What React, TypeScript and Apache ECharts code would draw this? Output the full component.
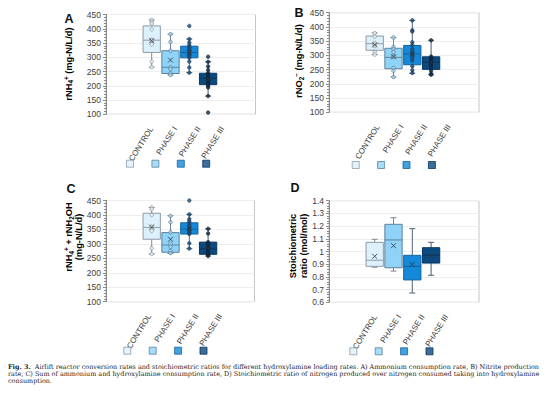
import React, { useEffect, useRef } from 'react';
import * as echarts from 'echarts';

// ---------------- data ----------------
const CATEGORIES = ['CONTROL', 'PHASE I', 'PHASE II', 'PHASE III'];

const RATE_TICKS = [100, 150, 200, 250, 300, 350, 400, 450];
const RATIO_TICKS = [0.6, 0.7, 0.8, 0.9, 1.0, 1.1, 1.2, 1.3, 1.4];

// A) rNH4+ (mg-N/L/d) — [min, Q1, median, Q3, max]
const A_BOX = [
  [265, 317, 360, 410, 431],
  [238, 243, 265, 323, 381],
  [246, 298, 317, 339, 364],
  [164, 204, 226, 244, 284],
];
const A_MEAN = [358, 290, 316, 222];
const A_POINTS = [
  [431, 424, 418, 398, 362, 358, 345, 285, 265],
  [381, 354, 323, 265, 258, 244, 238],
  [410, 364, 352, 343, 335, 328, 320, 312, 305, 298, 285, 264, 246],
  [302, 284, 268, 255, 245, 240, 234, 228, 224, 218, 212, 206, 200, 194, 164, 106],
];

// B) rNO2- (mg-N/L/d)
const B_BOX = [
  [303, 318, 341, 368, 379],
  [224, 253, 293, 325, 363],
  [237, 267, 305, 335, 423],
  [232, 251, 276, 295, 353],
];
const B_MEAN = [337, 295, 305, 275];
const B_POINTS = [
  [378, 366, 344, 338, 333, 312, 303],
  [363, 330, 322, 312, 298, 294, 256, 246, 224],
  [423, 388, 384, 346, 336, 322, 312, 306, 300, 292, 282, 262, 248, 238],
  [353, 296, 290, 285, 279, 275, 270, 264, 256, 246, 236, 232],
];

// C) rNH4+ + rNH2OH (mg-N/L/d)
const C_BOX = [
  [265, 316, 357, 406, 426],
  [267, 271, 296, 339, 397],
  [283, 334, 351, 373, 402],
  [258, 264, 283, 306, 352],
];
const C_MEAN = [358, 316, 353, 287];
const C_POINTS = [
  [426, 420, 400, 360, 345, 285, 265],
  [397, 375, 340, 300, 290, 276, 268],
  [450, 402, 386, 378, 370, 362, 355, 350, 345, 338, 334, 302, 284],
  [352, 336, 306, 300, 292, 286, 280, 274, 268, 263, 258],
];

// D) Stoichiometric ratio (mol/mol)
const D_BOX = [
  [0.876, 0.883, 0.931, 1.072, 1.096],
  [0.846, 0.872, 1.091, 1.214, 1.266],
  [0.673, 0.776, 0.883, 0.970, 1.180],
  [0.813, 0.909, 0.972, 1.030, 1.072],
];
const D_MEAN = [0.962, 1.046, 0.899, 0.965];
const D_POINTS: number[][] = [[], [], [], []];

// ---------------- styles ----------------
const FILL = ['#ddf1fd', '#8fd3f8', '#1589d9', '#0b4a7e'];
const EDGE = ['#8d9ba6', '#5e8199', '#17639c', '#073660'];
const WHISKER = ['#808c96', '#6f8391', '#4f6577', '#4a5b6a'];
const DOT_FILL = ['#eef7fd', '#a9ddf8', '#1f4c75', '#102e4b'];
const DOT_EDGE = ['#76838d', '#4d6d84', '#1a3d5e', '#0b2036'];
const FONT = 'Liberation Sans, Arial, Helvetica, sans-serif';
const SERIF = 'DejaVu Serif, Liberation Serif, serif';

const PANELS = [
  { box: A_BOX, mean: A_MEAN, points: A_POINTS, ticks: RATE_TICKS },
  { box: B_BOX, mean: B_MEAN, points: B_POINTS, ticks: RATE_TICKS },
  { box: C_BOX, mean: C_MEAN, points: C_POINTS, ticks: RATE_TICKS },
  { box: D_BOX, mean: D_MEAN, points: D_POINTS, ticks: RATIO_TICKS },
];

// layout (pixels)
const LAYOUT = [
  { ax: 106, top: 14.5, h: 99.8, w: 149.5, lab: 81, legX: 126, legY: 159.7 },
  { ax: 329, top: 12.7, h: 99.6, w: 150, lab: 84.5, legX: 351.7, legY: 161 },
  { ax: 106, top: 200.5, h: 101.2, w: 148.5, lab: 79, legX: 123.3, legY: 346.7 },
  { ax: 329, top: 200.7, h: 101.6, w: 150, lab: 82, legX: 349.3, legY: 347.3 },
];
const BOX_OFFSET = 36.3;
const BOX_BAND = 18.8;
const LABEL_BAND = 23.6;

const RICH = {
  b: { fontFamily: FONT, fontWeight: 'bold', fontSize: 9.3, color: '#1a1a1a', lineHeight: 10.5 },
  sub: { fontFamily: FONT, fontWeight: 'bold', fontSize: 6.3, color: '#1a1a1a', verticalAlign: 'bottom', lineHeight: 7 },
  sup: { fontFamily: FONT, fontWeight: 'bold', fontSize: 6.3, color: '#1a1a1a', verticalAlign: 'top', lineHeight: 7 },
};

const TITLES = [
  { x: 68.5, y: 64, text: '{b|rNH}{sub|4}{sup|+}{b| (mg-N/L/d)}' },
  { x: 299, y: 61, text: '{b|rNO}{sub|2}{sup|−}{b| (mg-N/L/d)}' },
  { x: 74, y: 237, text: '{b|rNH}{sub|4}{sup|+}{b| + rNH}{sub|2}{b|OH}\n{b|(mg-N/L/d)}' },
  { x: 298.5, y: 246, text: '{b|Stoichiometric}\n{b|ratio (mol/mol)}' },
];
const LETTERS = [
  { t: 'A', x: 69, y: 18.5 },
  { t: 'B', x: 299, y: 12.5 },
  { t: 'C', x: 71, y: 189 },
  { t: 'D', x: 295, y: 188.3 },
];

const CAPTION =
  '{b|Fig. 3.}{n|  Airlift reactor conversion rates and stoichiometric ratios for different hydroxylamine loading rates. A) Ammonium consumption rate, B) Nitrite production}\n' +
  '{n|rate, C) Sum of ammonium and hydroxylamine consumption rate, D) Stoichiometric ratio of nitrogen produced over nitrogen consumed taking into hydroxylamine}\n' +
  '{n|consumption.}';

function makeRenderBox() {
  return (params: any, api: any) => {
    const i = api.value(0);
    const x = api.coord([i, api.value(3)])[0];
    const yMin = api.coord([i, api.value(1)])[1];
    const yQ1 = api.coord([i, api.value(2)])[1];
    const yMed = api.coord([i, api.value(3)])[1];
    const yQ3 = api.coord([i, api.value(4)])[1];
    const yMax = api.coord([i, api.value(5)])[1];
    const bw = api.size([1, 0])[0] * 0.92;
    const cap = 6;
    const ws = { stroke: WHISKER[i], lineWidth: 1 };
    return {
      type: 'group',
      children: [
        { type: 'line', shape: { x1: x, y1: yMax, x2: x, y2: yQ3 }, style: ws },
        { type: 'line', shape: { x1: x, y1: yQ1, x2: x, y2: yMin }, style: ws },
        { type: 'line', shape: { x1: x - cap / 2, y1: yMax, x2: x + cap / 2, y2: yMax }, style: ws },
        { type: 'line', shape: { x1: x - cap / 2, y1: yMin, x2: x + cap / 2, y2: yMin }, style: ws },
        {
          type: 'rect',
          shape: { x: x - bw / 2, y: yQ3, width: bw, height: yQ1 - yQ3 },
          style: { fill: FILL[i], stroke: EDGE[i], lineWidth: 1 },
        },
        {
          type: 'line',
          shape: { x1: x - bw / 2, y1: yMed, x2: x + bw / 2, y2: yMed },
          style: { stroke: EDGE[i], lineWidth: 1 },
        },
      ],
    };
  };
}

function buildOption() {
  const grid: any[] = [];
  const xAxis: any[] = [];
  const yAxis: any[] = [];
  const series: any[] = [];
  const legend: any[] = [];
  const graphic: any[] = [];

  PANELS.forEach((p, k) => {
    const L = LAYOUT[k];
    const tmin = p.ticks[0];
    const tmax = p.ticks[p.ticks.length - 1];
    const tint = +(p.ticks[1] - p.ticks[0]).toFixed(6);
    const g0 = k * 3;

    // frame grid with y axis
    grid.push({
      left: L.ax, top: L.top, width: L.w, height: L.h,
      show: true, borderColor: '#c4c4c4', borderWidth: 1, backgroundColor: 'transparent',
    });
    xAxis.push({ gridIndex: g0, type: 'value', show: false, min: 0, max: 1 });
    yAxis.push({
      gridIndex: g0, type: 'value', min: tmin, max: tmax, interval: tint,
      axisLine: { show: true, lineStyle: { color: '#8a8a8a', width: 1 } },
      axisTick: { show: true, length: 3, lineStyle: { color: '#8a8a8a' } },
      minorTick: { show: true, splitNumber: 5, length: 2, lineStyle: { color: '#8a8a8a' } },
      axisLabel: {
        fontSize: 8.5, color: '#404040', fontFamily: FONT, margin: 5,
        formatter: (v: number) => String(+v.toFixed(2)),
      },
      splitLine: { show: true, lineStyle: { color: '#eeeeee', width: 1 } },
    });

    // box grid
    grid.push({ left: L.ax + BOX_OFFSET, top: L.top, width: BOX_BAND * 4, height: L.h });
    xAxis.push({ gridIndex: g0 + 1, type: 'category', data: CATEGORIES, show: false, boundaryGap: true });
    yAxis.push({ gridIndex: g0 + 1, type: 'value', min: tmin, max: tmax, show: false });

    // label grid
    grid.push({ left: L.ax + L.lab - LABEL_BAND * 2, top: L.top, width: LABEL_BAND * 4, height: L.h });
    xAxis.push({
      gridIndex: g0 + 2, type: 'category', data: CATEGORIES, boundaryGap: true,
      axisLine: { show: false }, axisTick: { show: false },
      axisLabel: { rotate: 58, margin: 13, fontSize: 8, color: '#404040', fontFamily: FONT, interval: 0 },
    });
    yAxis.push({ gridIndex: g0 + 2, type: 'value', show: false, min: 0, max: 1 });

    series.push({
      type: 'custom',
      xAxisIndex: g0 + 1, yAxisIndex: g0 + 1,
      renderItem: makeRenderBox(),
      encode: { x: 0, y: [1, 2, 3, 4, 5] },
      data: p.box.map((b, i) => [i, ...b]),
      z: 2,
    });
    series.push({
      type: 'scatter',
      xAxisIndex: g0 + 1, yAxisIndex: g0 + 1,
      symbol: 'circle', symbolSize: 3.5,
      data: p.points.flatMap((arr, i) =>
        arr.map((v) => ({
          value: [i, v],
          itemStyle: { color: DOT_FILL[i], borderColor: DOT_EDGE[i], borderWidth: 0.8 },
        }))
      ),
      z: 3,
    });
    series.push({
      type: 'scatter',
      xAxisIndex: g0 + 1, yAxisIndex: g0 + 1,
      symbol: 'path://M0 0L10 10M10 0L0 10', symbolSize: 5,
      itemStyle: { color: 'none', borderColor: '#333333', borderWidth: 1 },
      data: p.mean.map((v, i) => [i, v]),
      z: 4,
    });

    legend.push({
      left: L.legX, top: L.legY, padding: 0, icon: 'rect', itemWidth: 7, itemHeight: 7, itemGap: 17.4,
      selectedMode: false, formatter: () => '',
      data: CATEGORIES.map((n, i) => ({
        name: n, itemStyle: { color: FILL[i], borderColor: EDGE[i], borderWidth: 1 },
      })),
    });

    const T = TITLES[k];
    graphic.push({
      type: 'text', x: T.x, y: T.y, rotation: Math.PI / 2,
      style: { text: T.text, rich: RICH, align: 'center', verticalAlign: 'middle', fontFamily: FONT },
    });
    const Lt = LETTERS[k];
    graphic.push({
      type: 'text', x: Lt.x, y: Lt.y,
      style: {
        text: Lt.t, fontFamily: FONT, fontWeight: 'bold', fontSize: 12.5, fill: '#111',
        align: 'center', verticalAlign: 'middle',
      },
    });
  });

  // legend carrier series (no data)
  CATEGORIES.forEach((n, i) => {
    series.push({
      type: 'scatter', name: n, data: [], xAxisIndex: 0, yAxisIndex: 0,
      itemStyle: { color: FILL[i], borderColor: EDGE[i], borderWidth: 1 },
    });
  });

  graphic.push({
    type: 'text', x: 8, y: 363.8,
    style: {
      text: CAPTION,
      rich: {
        b: { fontFamily: SERIF, fontWeight: 'bold', fontSize: 6.45, lineHeight: 6.7, fill: '#222' },
        n: { fontFamily: SERIF, fontSize: 6.45, lineHeight: 6.7, fill: '#222' },
      },
      align: 'left', verticalAlign: 'top',
    },
  });

  return {
    animation: false,
    backgroundColor: '#ffffff',
    grid, xAxis, yAxis, series, legend, graphic,
  };
}

export default function App() {
  const ref = useRef<HTMLDivElement>(null);
  useEffect(() => {
    if (!ref.current) return;
    const chart = echarts.init(ref.current, undefined, { renderer: 'svg' });
    chart.setOption(buildOption() as any);
    return () => chart.dispose();
  }, []);
  return (
    <div
      ref={ref}
      style={{ position: 'absolute', left: 0, top: 0, width: 554, height: 396, background: '#fff' }}
    />
  );
}
